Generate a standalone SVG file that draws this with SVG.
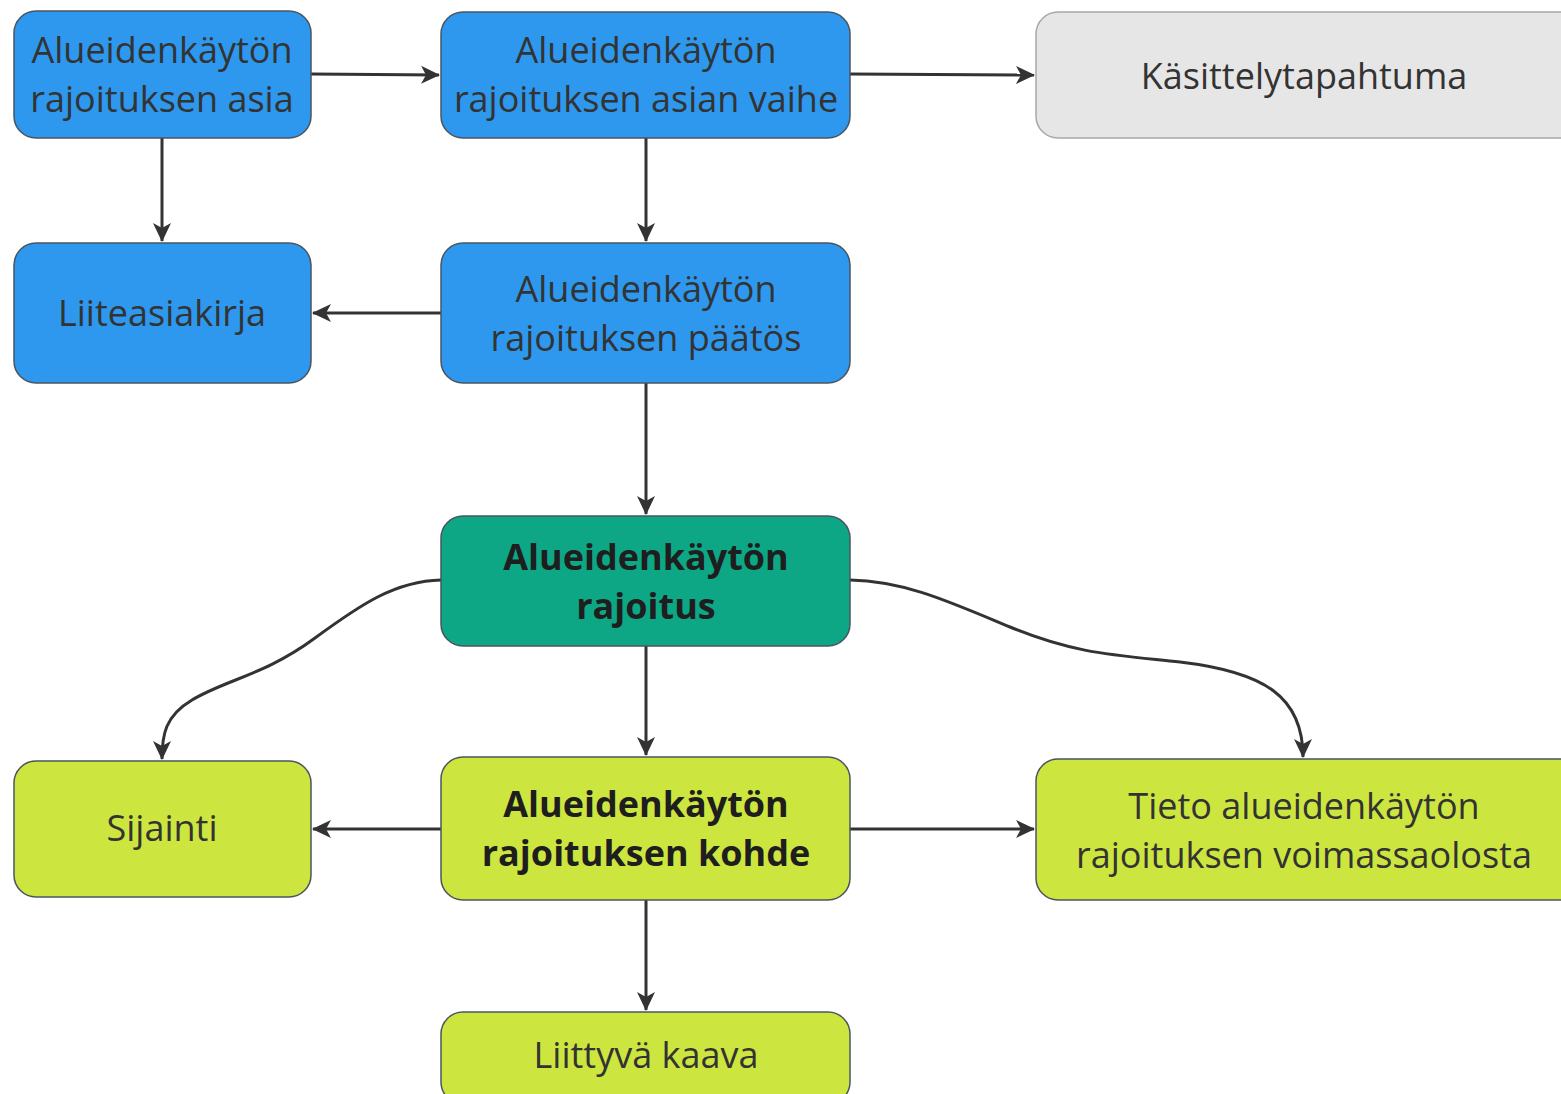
<svg xmlns="http://www.w3.org/2000/svg" width="1561" height="1094" viewBox="0 0 1561 1094">
<style>
.n rect{stroke:#4a5560;stroke-width:1.5}
.blue rect{fill:#2d98ed}
.green rect{fill:#0ea785}
.lime rect{fill:#cde63f}
.gray rect{fill:#e6e6e6;stroke:#a8a8a8}
text{font-family:"Open Sans","Noto Sans",sans-serif;font-size:36px;fill:#333;text-anchor:middle}
.b text{font-weight:bold;fill:#1e1e1e}
.e path{fill:none;stroke:#333;stroke-width:3}
</style>
<defs>
<marker id="a" markerUnits="userSpaceOnUse" markerWidth="20" markerHeight="20" viewBox="0 0 20 20" refX="18" refY="10" orient="auto">
<path d="M0,1 L19,10 L0,19 L5,10 z" fill="#333"/>
</marker>
</defs>
<rect width="1561" height="1094" fill="#fff"/>
<g class="e">
<path d="M311,74 L439,75" marker-end="url(#a)"/>
<path d="M850,74 L1034,75" marker-end="url(#a)"/>
<path d="M162,138 L162,241" marker-end="url(#a)"/>
<path d="M646,138 L646,241" marker-end="url(#a)"/>
<path d="M441,313 L313,313" marker-end="url(#a)"/>
<path d="M646,383 L646,514" marker-end="url(#a)"/>
<path d="M646,646 L646,755" marker-end="url(#a)"/>
<path d="M441,580 C395,581 360,605 315,638 C265,675 225,680 192,700 C165,716 162,735 162,759" marker-end="url(#a)"/>
<path d="M850,580 C905,581 950,602 1010,627 C1075,654 1115,655 1180,662 C1265,672 1303,697 1303,757" marker-end="url(#a)"/>
<path d="M441,829 L313,829" marker-end="url(#a)"/>
<path d="M850,829 L1034,829" marker-end="url(#a)"/>
<path d="M646,900 L646,1010" marker-end="url(#a)"/>
</g>
<g id="n1" class="n blue"><rect x="14" y="11" width="297" height="127" rx="22"/><text x="162" y="63">Alueidenkäytön</text><text x="162" y="112">rajoituksen asia</text></g>
<g id="n2" class="n blue"><rect x="441" y="12" width="409" height="126" rx="22"/><text x="646" y="63">Alueidenkäytön</text><text x="646" y="112">rajoituksen asian vaihe</text></g>
<g id="n3" class="n gray"><rect x="1036" y="12" width="560" height="126" rx="22"/><text x="1304" y="89">Käsittelytapahtuma</text></g>
<g id="n4" class="n blue"><rect x="14" y="243" width="297" height="140" rx="22"/><text x="162" y="326">Liiteasiakirja</text></g>
<g id="n5" class="n blue"><rect x="441" y="243" width="409" height="140" rx="22"/><text x="646" y="302">Alueidenkäytön</text><text x="646" y="351">rajoituksen päätös</text></g>
<g id="n6" class="n green b"><rect x="441" y="516" width="409" height="130" rx="22"/><text x="646" y="570">Alueidenkäytön</text><text x="646" y="619">rajoitus</text></g>
<g id="n7" class="n lime"><rect x="14" y="761" width="297" height="136" rx="22"/><text x="162" y="841">Sijainti</text></g>
<g id="n8" class="n lime b"><rect x="441" y="757" width="409" height="143" rx="22"/><text x="646" y="817">Alueidenkäytön</text><text x="646" y="866">rajoituksen kohde</text></g>
<g id="n9" class="n lime"><rect x="1036" y="759" width="560" height="141" rx="22"/><text x="1304" y="819">Tieto alueidenkäytön</text><text x="1304" y="868">rajoituksen voimassaolosta</text></g>
<g id="n10" class="n lime"><rect x="441" y="1012" width="409" height="92" rx="22"/><text x="646" y="1068">Liittyvä kaava</text></g>
</svg>
